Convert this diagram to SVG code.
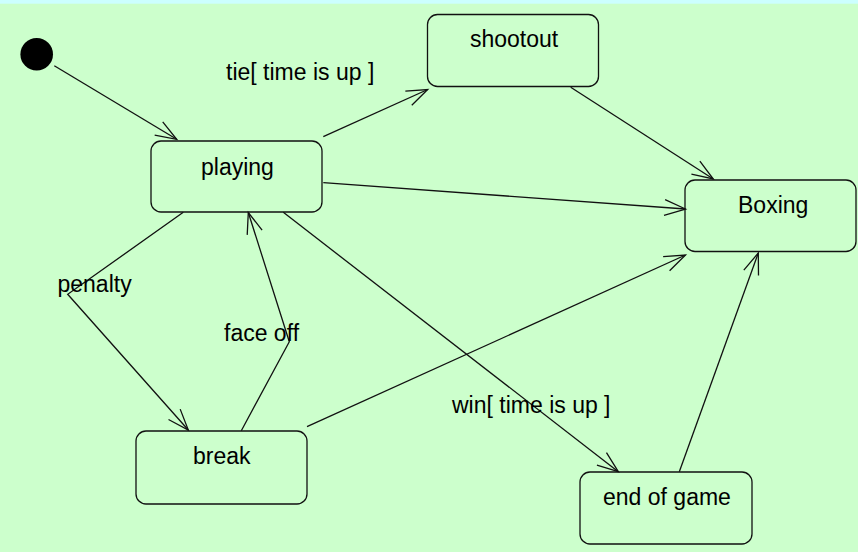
<svg xmlns="http://www.w3.org/2000/svg" width="858" height="552" viewBox="0 0 858 552">
<defs>
<style>
.state{fill:#ccffcc;stroke:#111;stroke-width:1.3}
.lbl{font-family:"Liberation Sans",Arial,sans-serif;font-size:23px;fill:#000}
.edge{fill:none;stroke:#111;stroke-width:1.3}
</style>
<marker id="arr" markerUnits="userSpaceOnUse" markerWidth="30" markerHeight="30" viewBox="-25 -12 30 24" refX="0" refY="0" orient="auto">
<path d="M-21,-7.8 L0,0 L-21,7.8" fill="none" stroke="#111" stroke-width="1.3"/>
</marker>
</defs>
<rect x="0" y="0" width="858" height="552" fill="#ccffcc"/>
<rect x="0" y="0" width="858" height="3.7" fill="#ccffff"/>
<g id="initial"><circle cx="36.7" cy="54.3" r="16.3" fill="#000"/></g>
<g id="playing"><rect class="state" x="151" y="141" width="171" height="71" rx="10"/><text class="lbl" x="201" y="175">playing</text></g>
<g id="shootout"><rect class="state" x="427.5" y="14.5" width="171" height="72" rx="10"/><text class="lbl" x="470" y="47">shootout</text></g>
<g id="boxing"><rect class="state" x="685" y="180" width="171" height="71.5" rx="10"/><text class="lbl" x="738" y="213">Boxing</text></g>
<g id="break"><rect class="state" x="136" y="431" width="171" height="73" rx="10"/><text class="lbl" x="193" y="464">break</text></g>
<g id="endofgame"><rect class="state" x="580" y="472" width="172" height="72" rx="10"/><text class="lbl" x="603" y="505">end of game</text></g>
<g id="connectors">
<line class="edge" x1="54.3" y1="65.7" x2="176.7" y2="139.3" marker-end="url(#arr)"/>
<line class="edge" x1="323.3" y1="136.7" x2="427.7" y2="89.5" marker-end="url(#arr)"/>
<line class="edge" x1="570.7" y1="87.3" x2="713.3" y2="179" marker-end="url(#arr)"/>
<line class="edge" x1="323.3" y1="182.7" x2="685.5" y2="209" marker-end="url(#arr)"/>
<line class="edge" x1="307" y1="426.7" x2="685.5" y2="255" marker-end="url(#arr)"/>
<line class="edge" x1="679.3" y1="471.7" x2="758.3" y2="253" marker-end="url(#arr)"/>
<line class="edge" x1="283.3" y1="212.3" x2="618.3" y2="471.7" marker-end="url(#arr)"/>
<polyline class="edge" points="183.3,212.3 67.7,294.3 188.3,430" marker-end="url(#arr)"/>
<polyline class="edge" points="241.3,430.7 289.3,341.7 248.3,212.5" marker-end="url(#arr)"/>
<text class="lbl" x="226" y="80">tie[ time is up ]</text>
<text class="lbl" x="57.5" y="292">penalty</text>
<text class="lbl" x="224" y="341">face off</text>
<text class="lbl" x="452" y="413">win[ time is up ]</text>
</g>
</svg>
